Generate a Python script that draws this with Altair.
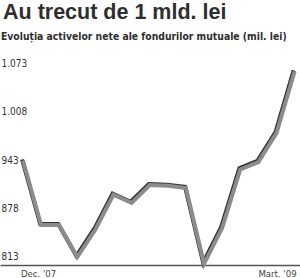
import altair as alt
import pandas as pd

# ---- data ----
months = ["Dec. '07", "Ian. '08", "Feb. '08", "Mart. '08", "Apr. '08", "Mai '08",
          "Iun. '08", "Iul. '08", "Aug. '08", "Sept. '08", "Oct. '08", "Nov. '08",
          "Dec. '08", "Ian. '09", "Feb. '09", "Mart. '09"]
values = [943, 856, 856, 813, 850, 897, 886, 910, 909, 906, 804, 852, 931, 941, 980, 1063]
y_ticks = [813, 878, 943, 1008, 1073]
y_tick_labels = ["813", "878", "943", "1.008", "1.073"]
x_label_first = "Dec. '07"
x_label_last = "Mart. '09"
title_text = "Au trecut de 1 mld. lei"
subtitle_text = "Evoluția activelor nete ale fondurilor mutuale (mil. lei)"

COND = "DejaVu Sans Condensed, Liberation Sans, sans-serif"

df = pd.DataFrame({"idx": list(range(len(values))), "month": months, "value": values})
ticks_df = pd.DataFrame({"v": y_ticks, "lab": y_tick_labels})

xscale = alt.Scale(domain=[-1.27, 15.30], nice=False, zero=False)
yscale = alt.Scale(domain=[802.2, 1159.4], nice=False, zero=False)

x_axis = alt.Axis(domain=True, domainColor="#555555", domainWidth=1.6,
                  ticks=False, labels=False, grid=False, title=None)
base = alt.Chart(df)

shadow = base.transform_calculate(
    sx="datum.idx - 0.05", sy="datum.value + 1.5"
).mark_line(color="#333333", strokeWidth=4, strokeJoin="miter").encode(
    x=alt.X("sx:Q", scale=xscale, axis=x_axis),
    y=alt.Y("sy:Q", scale=yscale, axis=None),
)

line = base.mark_line(color="#8c8c8c", strokeWidth=4, strokeJoin="miter").encode(
    x=alt.X("idx:Q", scale=xscale, axis=x_axis),
    y=alt.Y("value:Q", scale=yscale, axis=None),
)

ylabels = alt.Chart(ticks_df).mark_text(
    align="left", baseline="middle", font=COND, fontSize=10, color="#333333"
).encode(
    x=alt.value(1.5),
    y=alt.Y("v:Q", scale=yscale, axis=None),
    text="lab:N",
)

first_df = pd.DataFrame({"idx": [0], "lab": [x_label_first]})
last_df = pd.DataFrame({"idx": [len(values) - 1], "lab": [x_label_last]})

xl_first = alt.Chart(first_df).mark_text(
    align="left", baseline="alphabetic", font=COND, fontSize=9.5,
    color="#444444", dx=-2
).encode(x=alt.X("idx:Q", scale=xscale), y=alt.value(276.5), text="lab:N")

xl_last = alt.Chart(last_df).mark_text(
    align="right", baseline="alphabetic", font=COND, fontSize=9.5,
    color="#444444", dx=2
).encode(x=alt.X("idx:Q", scale=xscale), y=alt.value(276.5), text="lab:N")

title = alt.Chart(pd.DataFrame({"t": [title_text]})).mark_text(
    align="left", baseline="alphabetic", font="Liberation Sans", fontSize=21.5,
    fontWeight="bold", color="#2e2e2e"
).encode(x=alt.value(3), y=alt.value(18.5), text="t:N")

subtitle = alt.Chart(pd.DataFrame({"t": [subtitle_text]})).mark_text(
    align="left", baseline="alphabetic", font=COND, fontSize=10.3,
    fontWeight="bold", color="#2e2e2e"
).encode(x=alt.value(1), y=alt.value(39.5), text="t:N")

chart = alt.layer(shadow, line, ylabels, xl_first, xl_last, title, subtitle).properties(
    width=300, height=265,
    padding={"left": 0, "top": 0, "right": 0, "bottom": 13},
    autosize=alt.AutoSizeParams(type="none"),
    background="white",
).configure_view(stroke=None)

chart.save("out.html", embed_options={"renderer": "svg", "actions": False})
